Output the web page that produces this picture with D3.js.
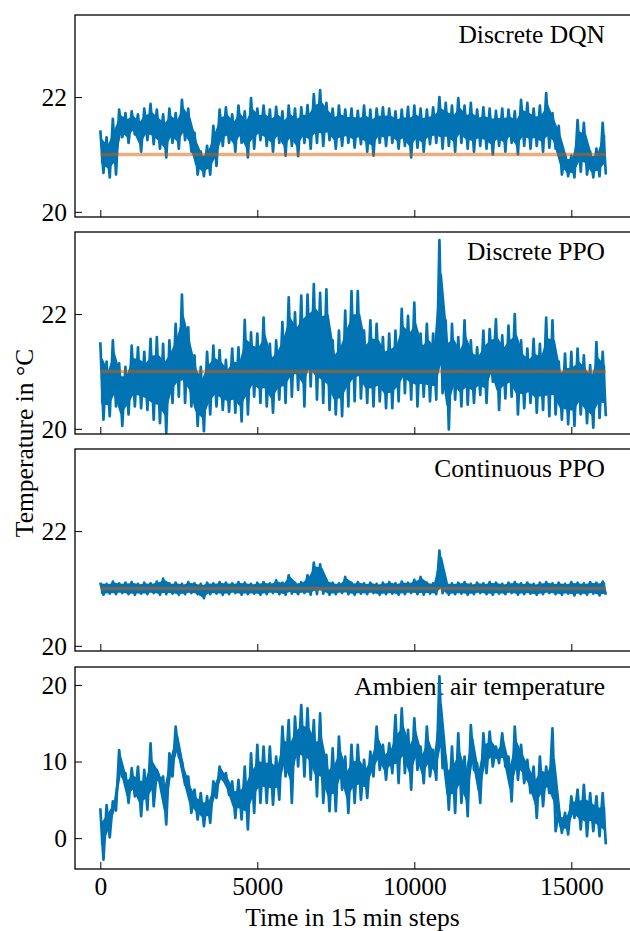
<!DOCTYPE html>
<html><head><meta charset="utf-8">
<script src="https://cdn.jsdelivr.net/npm/d3@7"></script>
<style>html,body{margin:0;padding:0;background:#fff}svg{display:block}</style>
</head><body>
<script>
// ---------- data (bins of 200 steps: per-bin high / low) ----------
const binStep = 200;
const setpoint = 21;

const dqnHi = [21.42,21.30,21.62,21.78,21.72,21.75,21.70,21.80,21.88,21.78,21.70,21.80,21.72,21.95,21.80,21.38,21.05,21.15,21.50,21.78,
21.82,21.70,21.85,21.75,21.98,21.80,21.85,21.78,21.83,21.75,21.85,21.80,21.82,21.86,22.05,22.12,21.90,21.80,21.85,21.78,
21.80,21.76,21.85,21.78,21.80,21.82,21.80,21.75,21.78,21.83,21.85,21.80,21.78,21.82,22.00,21.90,21.85,21.98,21.85,21.90,
21.78,21.82,21.80,21.76,21.80,21.78,21.75,21.95,21.90,21.80,21.85,22.07,21.72,21.50,21.00,20.98,21.60,21.55,21.05,21.10,21.55];
const dqnLo = [20.68,20.60,20.65,21.30,21.20,21.35,21.05,21.25,21.18,21.10,20.95,21.20,21.10,21.25,21.05,20.65,20.62,20.65,20.80,21.15,
21.20,21.05,21.20,20.95,21.10,21.25,21.15,21.05,21.20,20.98,21.15,20.97,21.20,21.10,21.20,21.15,21.25,21.10,21.15,21.20,
21.12,21.18,21.05,20.98,21.20,21.15,21.20,21.10,21.15,20.95,21.12,21.05,21.18,21.20,21.10,21.15,21.05,21.20,21.10,21.05,
21.15,21.10,21.00,21.15,21.05,21.20,21.00,21.15,21.10,21.15,21.05,21.12,21.10,20.65,20.62,20.60,20.70,20.65,20.60,20.62,20.65];

const ppoHi = [21.51,21.17,21.54,21.14,21.08,21.45,21.42,21.34,21.57,21.60,21.48,21.54,21.83,22.34,21.77,21.28,21.08,21.34,21.45,21.37,
21.20,21.40,21.42,21.90,21.68,21.66,21.94,21.48,21.54,21.86,22.29,22.03,22.32,22.34,22.52,22.37,22.43,21.54,21.71,22.06,
22.40,22.40,21.71,21.89,21.83,21.60,21.66,21.71,22.09,21.97,22.20,21.66,21.83,21.66,23.29,21.89,21.83,21.60,21.89,21.54,
21.42,21.71,21.74,21.91,21.63,21.80,22.00,21.54,21.40,21.57,21.48,21.94,21.89,21.17,21.31,21.34,21.40,21.28,21.11,21.51,21.34];
const ppoLo = [20.16,20.22,20.39,20.05,20.25,20.39,20.36,20.33,20.16,20.10,19.93,20.45,20.56,20.45,20.39,20.05,19.96,20.25,20.39,20.33,
20.30,20.28,20.13,20.25,20.56,20.45,20.39,20.28,20.51,20.45,20.56,20.68,20.39,20.74,20.51,20.45,20.33,20.25,20.22,20.39,
20.48,20.53,20.45,20.39,20.48,20.36,20.36,20.48,20.62,20.51,20.39,20.56,20.48,20.51,20.62,19.99,20.51,20.39,20.42,20.45,
20.59,20.45,20.82,20.33,20.53,20.56,20.25,20.36,20.45,20.28,20.33,20.22,20.25,20.16,20.08,20.05,20.25,20.10,20.02,20.19,20.22];

const contHi = [21.10,21.08,21.12,21.09,21.10,21.11,21.08,21.10,21.09,21.12,21.17,21.09,21.10,21.08,21.11,21.09,21.08,21.10,21.09,21.11,
21.10,21.09,21.11,21.10,21.08,21.10,21.11,21.09,21.14,21.10,21.23,21.10,21.11,21.23,21.45,21.42,21.14,21.10,21.09,21.20,
21.10,21.11,21.09,21.10,21.08,21.10,21.11,21.09,21.12,21.10,21.15,21.20,21.10,21.09,21.66,21.10,21.09,21.10,21.11,21.08,
21.10,21.09,21.11,21.10,21.08,21.10,21.11,21.09,21.10,21.08,21.10,21.11,21.09,21.10,21.08,21.11,21.10,21.09,21.11,21.10,21.12];
const contLo = [20.89,20.91,20.90,20.92,20.90,20.89,20.91,20.90,20.92,20.89,20.90,20.91,20.89,20.90,20.92,20.90,20.83,20.90,20.91,20.89,
20.90,20.92,20.89,20.90,20.91,20.89,20.90,20.92,20.90,20.89,20.91,20.90,20.92,20.89,20.90,20.91,20.89,20.90,20.92,20.90,
20.89,20.91,20.90,20.92,20.89,20.90,20.91,20.89,20.90,20.92,20.90,20.89,20.91,20.90,20.92,20.89,20.90,20.91,20.89,20.90,
20.92,20.90,20.89,20.91,20.90,20.92,20.89,20.90,20.91,20.89,20.90,20.92,20.90,20.89,20.91,20.88,20.90,20.89,20.91,20.88,20.89];

const ambHi = [3.9,4.3,4.8,11.5,8.49,9.14,9.35,8.92,12.38,8.92,8.05,11.08,14.55,10.0,8.05,6.32,5.89,5.46,7.41,9.35,
8.49,7.41,7.62,9.35,11.08,12.17,11.95,11.95,10.65,14.55,15.41,15.85,17.36,16.93,15.41,16.28,10.87,11.73,13.25,10.65,
12.17,12.17,10.22,11.30,14.55,12.17,12.38,16.06,16.93,14.12,15.63,11.95,14.55,11.52,21.13,10.65,11.95,13.68,10.65,14.76,
9.79,13.68,13.90,11.95,13.68,10.65,14.55,12.17,10.22,9.35,10.65,9.35,14.33,3.5,3.29,5.46,6.32,6.97,5.89,5.46,5.89];
const ambLo = [-2.8,0.1,3.6,8.0,4.59,5.46,2.86,3.72,4.16,7.41,1.78,8.05,10.65,6.97,3.29,2.43,1.56,1.99,5.24,7.62,
5.67,2.64,2.43,1.13,3.29,4.59,4.59,4.37,5.02,8.05,4.59,9.35,8.05,7.62,5.46,4.59,3.51,3.51,6.32,3.29,
4.59,5.02,5.24,8.05,8.92,7.62,8.49,7.19,8.49,6.32,8.92,7.19,8.05,7.62,9.14,3.72,3.29,4.59,2.86,8.92,
4.59,8.49,9.35,9.79,9.35,4.81,7.62,7.19,5.89,2.64,4.16,5.89,0.9,0.69,0.48,2.64,1.13,0.26,0.91,0.26,-0.82];

const panelTitles = ["Discrete DQN", "Discrete PPO", "Continuous PPO", "Ambient air temperature"];
const xTicks = [0, 5000, 10000, 15000];
const roomTicks = [20, 22];
const ambTicks = [0, 10, 20];
const xDomain = [-806, 16933];
const roomDomain = [19.91, 23.43];
const ambDomain = [-4.03, 22.34];

// ---------- layout ----------
const W = 630, H = 931;
const left = 75, right = 632;
const tops = [15, 232, 449, 667];
const ph = 202;
const font = "'Liberation Serif','Times New Roman',Times,serif";
const blue = "#0173b2";
const fs = 25.5;
const coreShares = [0.24, 0.22, 0.15, 0.3]; // how far the solid core of the noisy trace sits inside each bin's range

const svg = d3.select("body").append("svg").attr("width", W).attr("height", H);
const x = d3.scaleLinear().domain(xDomain).range([left, right]);

// zig-zag trace between the readings
function trace(hi, lo) {
  const out = [];
  hi.forEach((h, i) => {
    out.push([i * binStep, h]);
    out.push([i * binStep + binStep / 2, lo[i]]);
  });
  return out;
}

const panels = [
  {hi: dqnHi, lo: dqnLo, dom: roomDomain, ticks: roomTicks, sp: true},
  {hi: ppoHi, lo: ppoLo, dom: roomDomain, ticks: roomTicks, sp: true},
  {hi: contHi, lo: contLo, dom: roomDomain, ticks: roomTicks, sp: true},
  {hi: ambHi, lo: ambLo, dom: ambDomain, ticks: ambTicks, sp: false}
];

panels.forEach((p, k) => {
  const top = tops[k], bot = top + ph;
  const y = d3.scaleLinear().domain(p.dom).range([bot, top]);
  const g = svg.append("g");
  const cid = "clip" + k;
  svg.append("clipPath").attr("id", cid).append("rect")
    .attr("x", left).attr("y", top).attr("width", right - left).attr("height", ph);

  // title
  g.append("text").attr("x", 605).attr("y", top + 28).attr("text-anchor", "end")
    .attr("font-family", font).attr("font-size", fs).attr("fill", "#000").text(panelTitles[k]);

  const cs = coreShares[k];
  const rowsCore = p.hi.map((h, i) => ({t: i * binStep + binStep / 4, hi: h, lo: p.lo[i]}));
  const core = d3.area().x(d => x(d.t))
    .y0(d => y(d.lo + cs * (d.hi - d.lo)))
    .y1(d => y(d.hi - cs * (d.hi - d.lo)));
  g.append("path").datum(rowsCore).attr("clip-path", `url(#${cid})`)
    .attr("d", core).attr("fill", blue).attr("stroke", blue).attr("stroke-width", 2);

  const line = d3.line().x(d => x(d[0])).y(d => y(d[1]));
  g.append("path").datum(trace(p.hi, p.lo)).attr("clip-path", `url(#${cid})`)
    .attr("d", line).attr("fill", "none").attr("stroke", blue)
    .attr("stroke-width", 2.7).attr("stroke-linejoin", "round");

  if (p.sp) {
    const spData = [[0, setpoint], [(p.hi.length - 1) * binStep + binStep / 2, setpoint]];
    g.append("path").datum(spData).attr("d", line).attr("fill", "none")
      .attr("stroke", "#d55e00").attr("stroke-opacity", 0.5).attr("stroke-width", 3.4);
  }

  // axes (inward ticks)
  const yAxis = d3.axisLeft(y).tickValues(p.ticks).tickSize(-7).tickPadding(15).tickFormat(d3.format("d"));
  const ya = svg.append("g").attr("transform", `translate(${left},0)`).call(yAxis);
  const xAxis = d3.axisBottom(x).tickValues(xTicks).tickSize(-7).tickPadding(16)
    .tickFormat(k === 3 ? d3.format("d") : () => "");
  const xa = svg.append("g").attr("transform", `translate(0,${bot})`).call(xAxis);
  [ya, xa].forEach(a => {
    a.select(".domain").remove();
    a.selectAll(".tick line").attr("stroke", "#000").attr("stroke-width", 1);
    a.selectAll(".tick text").attr("font-family", font).attr("font-size", fs).attr("fill", "#000");
  });
  ya.selectAll(".tick text").attr("dy", "0.33em").attr("x", -8);
  xa.selectAll(".tick text").attr("dy", "0.71em").attr("y", 8);

  // frame
  svg.append("rect").attr("x", left).attr("y", top).attr("width", right - left).attr("height", ph)
    .attr("fill", "none").attr("stroke", "#000").attr("stroke-width", 1.3);
});

svg.append("text").attr("x", (left + right) / 2 - 1).attr("y", 926).attr("text-anchor", "middle")
  .attr("font-family", font).attr("font-size", fs).attr("fill", "#000").text("Time in 15 min steps");
svg.append("text").attr("transform", "translate(33,443) rotate(-90)").attr("text-anchor", "middle")
  .attr("font-family", font).attr("font-size", fs).attr("fill", "#000").text("Temperature in °C");
</script>
</body></html>
